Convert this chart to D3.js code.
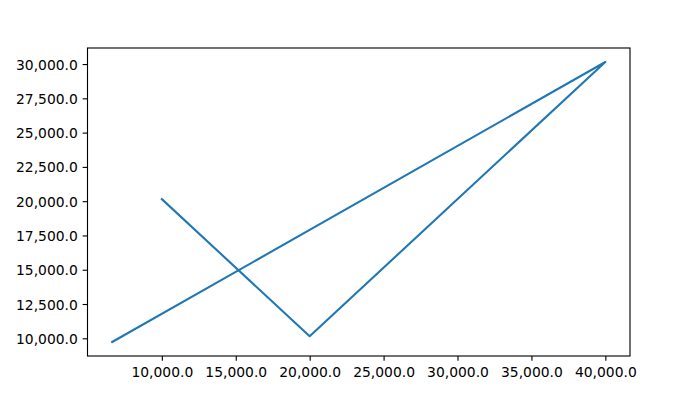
<!DOCTYPE html>
<html>
<head>
<meta charset="utf-8">
<script src="https://cdn.jsdelivr.net/npm/d3@7"></script>
<style>
  html, body { margin: 0; padding: 0; background: #fff; }
  svg { display: block; }
  text { font-family: "DejaVu Sans", sans-serif; }
</style>
</head>
<body>
<svg id="chart" width="700" height="400"></svg>
<script>
// Data
const xValues = [10000, 20000, 40000, 6640];
const yValues = [20150, 10150, 30150, 9730];
const xTicks = [10000, 15000, 20000, 25000, 30000, 35000, 40000];
const yTicks = [10000, 12500, 15000, 17500, 20000, 22500, 25000, 27500, 30000];

(function () {
const W = 700, H = 400;
const mLeft = 87.5, mRight = 630, mTop = 48, mBottom = 356;
const fontPx = 13.89;
const tickLen = 4.86, tickPad = 4.86;

const svg = d3.select("#chart");
svg.append("rect").attr("width", W).attr("height", H).attr("fill", "#fff");

const xExt = d3.extent(xValues), yExt = d3.extent(yValues);
const xm = (xExt[1] - xExt[0]) * 0.05, ym = (yExt[1] - yExt[0]) * 0.05;
const x = d3.scaleLinear().domain([xExt[0] - xm, xExt[1] + xm]).range([mLeft, mRight]);
const y = d3.scaleLinear().domain([yExt[0] - ym, yExt[1] + ym]).range([mBottom, mTop]);

const fmt = d3.format(",.1f");

// line
const pts = xValues.map((v, i) => [v, yValues[i]]);
svg.append("path")
  .attr("d", d3.line().x(d => x(d[0])).y(d => y(d[1]))(pts))
  .attr("fill", "none")
  .attr("stroke", "#1f77b4")
  .attr("stroke-width", 2.08)
  .attr("stroke-linejoin", "round")
  .attr("stroke-linecap", "square");

// x axis
const xAxis = d3.axisBottom(x).tickValues(xTicks).tickFormat(fmt)
  .tickSize(tickLen).tickPadding(tickPad).tickSizeOuter(0);
const gx = svg.append("g").attr("transform", `translate(0,${mBottom})`).call(xAxis);
gx.select(".domain").remove();
gx.selectAll(".tick line").attr("stroke", "#000").attr("stroke-width", 1.11);
gx.selectAll(".tick text").attr("fill", "#000")
  .style("font-family", "'DejaVu Sans', sans-serif").style("font-size", fontPx + "px")
  .attr("dy", "0.78em");

// y axis
const yAxis = d3.axisLeft(y).tickValues(yTicks).tickFormat(fmt)
  .tickSize(tickLen).tickPadding(tickPad).tickSizeOuter(0);
const gy = svg.append("g").attr("transform", `translate(${mLeft},0)`).call(yAxis);
gy.select(".domain").remove();
gy.selectAll(".tick line").attr("stroke", "#000").attr("stroke-width", 1.11);
gy.selectAll(".tick text").attr("fill", "#000")
  .style("font-family", "'DejaVu Sans', sans-serif").style("font-size", fontPx + "px")
  .attr("dy", "0.36em");

// frame (spines)
svg.append("rect")
  .attr("x", mLeft).attr("y", mTop)
  .attr("width", mRight - mLeft).attr("height", mBottom - mTop)
  .attr("fill", "none").attr("stroke", "#000").attr("stroke-width", 1.11);
})();
</script>
</body>
</html>
